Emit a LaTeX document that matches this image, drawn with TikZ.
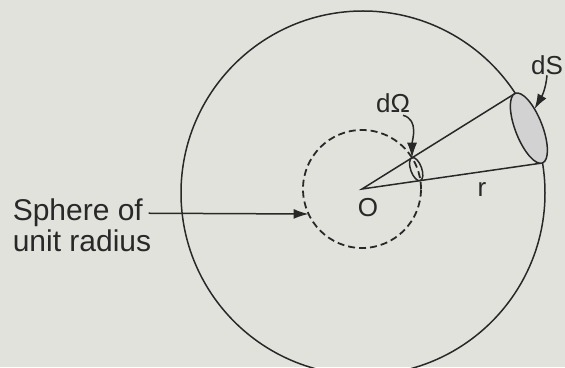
\documentclass[tikz,border=0pt]{standalone}
\usepackage{fontspec}
\setmainfont{Liberation Sans}
\usepackage{xcolor}
\usetikzlibrary{arrows.meta, positioning}
\definecolor{paper}{RGB}{226,226,221}
\definecolor{ink}{RGB}{40,40,40}

\begin{document}
\begin{tikzpicture}[x=1pt, y=1pt, draw=ink, line width=1.5pt,
  lbl/.style={font=\fontsize{26}{31}\selectfont, inner sep=0pt, text=ink},
  side/.style={font=\fontsize{30}{36}\selectfont, inner sep=0pt, text=ink, anchor=base west},
  pointer/.style={-{Latex[length=15pt,width=10pt]}}]
  \fill[paper] (0,0) rectangle (565,367);
  \useasboundingbox (0,0) rectangle (565,367);
  \clip (0,0) rectangle (565,367);
  % outer sphere and unit sphere
  \coordinate (C) at (363,174);
  \coordinate (O) at (362,178);
  \draw (C) circle (182pt);
  \draw[line width=1.8pt, dash pattern=on 7pt off 4pt] (O) circle (59pt);
  % cone
  \path (C) ++(33.2:182) coordinate (su);
  \path (C) ++(9.5:182) coordinate (sl);
  \path (O) ++(32:59) coordinate (du);
  \path (O) ++(205.07:59) coordinate (dleft);
  \draw (su) -- (O) -- (sl);
  % area element dS
  \path (C) ++(21.35:178.1) coordinate (dsc);
  \begin{scope}[shift={(dsc)}, rotate=21.35]
    \draw[fill=gray!35] (0,0) ellipse [x radius=13.5, y radius=37.4];
    \coordinate (dstip) at (25:13.5 and 37.4);
  \end{scope}
  % small cap on unit sphere
  \path (O) ++(20.1:57.7) coordinate (dwc);
  \begin{scope}[shift={(dwc)}, rotate=20.1]
    \draw (0,0) ellipse [x radius=5.5, y radius=12.2];
  \end{scope}
  % labels
  \node[lbl] (dOm) at (393,264) {dΩ};
  \node[lbl] (dS) at (547,302) {dS};
  \node[lbl] (r) at (482,177) {r};
  \node[lbl] (o) at (368,159) {O};
  \node[side] (sph) at (12,146) {Sphere of};
  \node[side] (rad) at ([yshift=-31pt]sph.base west) {unit radius};
  \draw[pointer] ([xshift=10pt,yshift=-2pt]dOm.south) to[out=-15,in=90] (du);
  \draw[pointer] (dS.south) to[out=-95,in=60] (dstip);
  \draw[pointer] ([xshift=5pt]sph.east) -- (dleft);
\end{tikzpicture}
\end{document}
